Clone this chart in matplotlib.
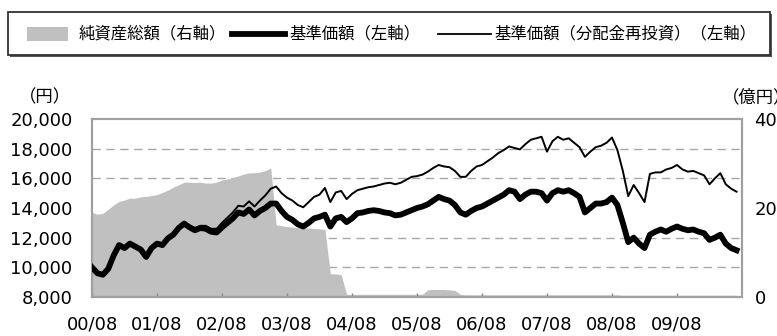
import matplotlib
matplotlib.use("Agg")
import matplotlib.pyplot as plt
from matplotlib.patches import Rectangle
from matplotlib.lines import Line2D
from matplotlib.ticker import FuncFormatter

plt.rcParams["font.family"] = ["Noto Sans CJK JP", "DejaVu Sans"]

# monthly values, 2000/08 .. 2010/07
nav = [
    10000, 9600, 9500, 9900, 10800, 11500, 11300, 11600, 11400, 11200,
    10700, 11300, 11600, 11500, 11950, 12200, 12650, 12950, 12700, 12500,
    12650, 12600, 12400, 12350, 12700, 13000, 13300, 13700, 13600, 13900,
    13500, 13800, 14000, 14300, 14300, 13800, 13400, 13200, 12900, 12750,
    13000, 13300, 13400, 13550, 12750, 13300, 13400, 13050, 13300, 13650,
    13700, 13800, 13850, 13800, 13700, 13650, 13500, 13550, 13700, 13850,
    14000, 14100, 14250, 14500, 14750, 14600, 14500, 14200, 13700, 13550,
    13800, 14000, 14100, 14300, 14500, 14700, 14900, 15200, 15100, 14600,
    14900, 15100, 15100, 15000, 14500, 15000, 15200, 15100, 15200, 15000,
    14750, 13700, 14000, 14300, 14300, 14400, 14700, 14200, 13000, 11700,
    12000, 11600, 11300, 12200, 12400, 12550, 12400, 12600, 12750, 12600,
    12500, 12550, 12400, 12300, 11850, 12000, 12200, 11600, 11300, 11150,
]
nav_reinvest = [
    10000, 9600, 9500, 9900, 10800, 11500, 11300, 11600, 11400, 11200,
    10700, 11300, 11600, 11500, 11950, 12200, 12650, 12950, 12800, 12650,
    12800, 12800, 12600, 12600, 13000, 13350, 13700, 14150, 14100, 14450,
    14100, 14500, 14850, 15300, 15450, 15000, 14700, 14500, 14200, 14050,
    14400, 14750, 14900, 15350, 14400, 15050, 15150, 14600, 14950, 15200,
    15300, 15400, 15450, 15550, 15650, 15700, 15600, 15700, 15900, 16100,
    16150, 16250, 16450, 16700, 16900, 16800, 16750, 16500, 16100, 16100,
    16500, 16800, 16900, 17150, 17400, 17700, 17900, 18150, 18050, 17950,
    18300, 18600, 18700, 18800, 17800, 18500, 18800, 18600, 18700, 18400,
    18100, 17450, 17800, 18100, 18200, 18400, 18750, 17900, 16500, 14800,
    15550, 15000, 14400, 16300, 16400, 16400, 16600, 16700, 16900, 16600,
    16450, 16500, 16350, 16200, 15600, 16000, 16350, 15600, 15300, 15100,
]
net_assets = [
    190, 186, 188, 197, 207, 215, 218, 222, 222, 225,
    226, 228, 230, 235, 240, 247, 252, 258, 258, 257,
    258, 256, 256, 258, 263, 265, 268, 272, 276, 279,
    279, 281, 284, 290, 162, 160, 158, 157, 156, 155,
    155, 154, 153, 152, 52, 52, 50, 6, 6, 6,
    6, 6, 6, 6, 6, 6, 6, 6, 6, 6,
    6, 6, 16, 17, 17, 17, 16, 15, 6, 5,
    5, 5, 5, 5, 5, 5, 5, 5, 5, 5,
    5, 5, 5, 5, 5, 5, 5, 5, 5, 5,
    5, 5, 5, 5, 5, 5, 5, 5, 4, 4,
    4, 4, 4, 4, 4, 4, 4, 4, 4, 4,
    4, 4, 4, 4, 4, 4, 4, 4, 4, 4,
]
months = list(range(len(nav)))
tick_labels = ["00/08", "01/08", "02/08", "03/08", "04/08",
               "05/08", "06/08", "07/08", "08/08", "09/08"]
left_ticks = [8000, 10000, 12000, 14000, 16000, 18000, 20000]
right_ticks = [0, 200, 400]

W, H = 777, 336
fig = plt.figure(figsize=(W / 100, H / 100), dpi=100)
ax = fig.add_axes([92 / W, 1 - 297 / H, 650 / W, 178 / H])
ax2 = ax.twinx()

# fill on the right axis, kept below the price lines
ax2.set_zorder(0)
ax.set_zorder(1)
ax.patch.set_visible(False)
ax2.fill_between(months, net_assets, 0, color="#c0c0c0", lw=0, zorder=2)
ax2.set_ylim(0, 400)
ax2.set_yticks(right_ticks)
ax2.set_yticks([400 * k / 6 for k in range(1, 6)], minor=True)
ax2.grid(which="minor", axis="y", color="#a8a8a8", ls=(0, (6, 4)), lw=1.0)
ax2.set_axisbelow(True)
ax2.tick_params(axis="y", which="both", length=0, pad=9, labelsize=13)

ax.plot(months, nav, color="black", lw=4.2, solid_joinstyle="round", zorder=3)
ax.plot(months, nav_reinvest, color="black", lw=1.4, zorder=4)
ax.set_ylim(8000, 20000)
ax.set_yticks(left_ticks)
ax.yaxis.set_major_formatter(FuncFormatter(lambda v, p: f"{int(v):,}"))
ax.set_xlim(0, 120)
ax.set_xticks(list(range(0, 120, 12)))
ax.set_xticklabels(tick_labels)
ax.tick_params(axis="y", length=0, pad=14, labelsize=13)
ax.tick_params(axis="x", direction="in", length=3, width=1, color="#888888",
               pad=13, labelsize=13)
for lab in ax.get_xticklabels() + ax.get_yticklabels() + ax2.get_yticklabels():
    lab.set_family("DejaVu Sans")

for a in (ax, ax2):
    for s in a.spines.values():
        s.set_color("#a0a0a0")
        s.set_linewidth(1.5)

fig.text(45 / W, 1 - 97 / H, "（円）", ha="center", va="center", fontsize=12.5)
fig.text(722 / W, 1 - 97 / H, "（億円）", ha="left", va="center", fontsize=12.5)

# legend box
fig.add_artist(Rectangle((10 / W, 1 - 57 / H), 762 / W, 43 / H,
                         transform=fig.transFigure, fc="#555555", ec="none"))
fig.add_artist(Rectangle((8 / W, 1 - 55 / H), 762 / W, 43 / H,
                         transform=fig.transFigure, fc="white", ec="#333333", lw=1.3))
ly = 1 - 34 / H
fig.add_artist(Rectangle((27 / W, 1 - 41 / H), 41 / W, 14 / H,
                         transform=fig.transFigure, fc="#c0c0c0", ec="none"))
fig.text(79 / W, ly, "純資産総額（右軸）", ha="left", va="center", fontsize=11.8)
fig.add_artist(Line2D([232 / W, 285 / W], [ly, ly], transform=fig.transFigure,
                      color="black", lw=4.2))
fig.text(289 / W, ly, "基準価額（左軸）", ha="left", va="center", fontsize=11.8)
fig.add_artist(Line2D([438 / W, 491 / W], [ly, ly], transform=fig.transFigure,
                      color="black", lw=1.3))
fig.text(494 / W, ly, "基準価額（分配金再投資）（左軸）", ha="left", va="center",
         fontsize=11.8)

fig.savefig("out.png", dpi=100, facecolor="white")
